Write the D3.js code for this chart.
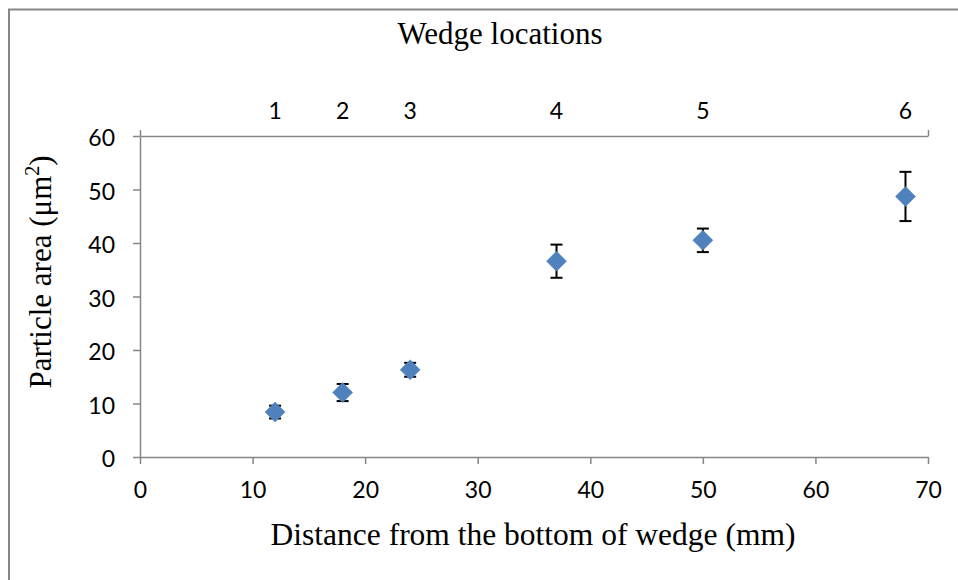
<!DOCTYPE html>
<html lang="en">
<head>
<meta charset="UTF-8">
<title>Particle area vs distance</title>
<script src="https://d3js.org/d3.v7.min.js"></script>
<style>
  body { margin: 0; background: #fff; }
  svg { display: block; }
  .tick text, .wedge { font-family: Lato, "Open Sans", sans-serif; font-size: 23px; fill: #000; }
  .domain, .tick line { stroke: #868686; stroke-width: 1.5px; }
  .title { font-family: "Liberation Serif", "Times New Roman", serif; font-size: 31px; fill: #000; }
</style>
</head>
<body>
<svg width="958" height="580"></svg>
<script>
// data
const distance = [12, 18, 24, 37, 50, 68];
const wedgeLabels = ["1", "2", "3", "4", "5", "6"];
const area = [8.4, 12.05, 16.3, 36.6, 40.5, 48.7];
const areaErr = [1.2, 1.6, 1.3, 3.1, 2.2, 4.6];
const xTicks = [0, 10, 20, 30, 40, 50, 60, 70];
const yTicks = [0, 10, 20, 30, 40, 50, 60];

const svg = d3.select("svg");
const plot = { left: 140, right: 928, top: 136, bottom: 457 };

const x = d3.scaleLinear().domain([0, 70]).range([plot.left, plot.right]);
const y = d3.scaleLinear().domain([0, 60]).range([plot.bottom, plot.top]);

// outer frame (top and left edges)
svg.append("path")
    .attr("d", "M9,580V9.5H958")
    .attr("fill", "none")
    .attr("stroke", "#868686")
    .attr("stroke-width", 2);

// bottom axis
svg.append("g")
    .attr("transform", `translate(0,${plot.bottom})`)
    .call(d3.axisBottom(x).tickValues(xTicks).tickSize(7).tickSizeOuter(0).tickPadding(18))
    .call(g => g.selectAll(".tick text").attr("dy", "0.71em"));

// left axis
svg.append("g")
    .attr("transform", `translate(${plot.left},0)`)
    .call(d3.axisLeft(y).tickValues(yTicks).tickSize(7).tickSizeOuter(0).tickPadding(18))
    .call(g => g.selectAll(".tick text").attr("dy", "0.42em"));

// top axis (wedge locations)
svg.append("g")
    .attr("transform", `translate(0,${plot.top})`)
    .call(d3.axisTop(x).tickValues([0, 70]).tickSize(6).tickSizeOuter(0).tickFormat(""));

svg.append("g").selectAll("text")
    .data(distance)
    .join("text")
    .attr("class", "wedge")
    .attr("x", d => x(d))
    .attr("y", 119)
    .attr("text-anchor", "middle")
    .text((d, i) => wedgeLabels[i]);

// error bars
const eb = svg.append("g").attr("stroke", "#000").attr("stroke-width", 2);
distance.forEach((d, i) => {
    const cx = x(d), y1 = y(area[i] + areaErr[i]), y2 = y(area[i] - areaErr[i]);
    eb.append("line").attr("x1", cx).attr("x2", cx).attr("y1", y1).attr("y2", y2);
    eb.append("line").attr("x1", cx - 6).attr("x2", cx + 6).attr("y1", y1).attr("y2", y1);
    eb.append("line").attr("x1", cx - 6).attr("x2", cx + 6).attr("y1", y2).attr("y2", y2);
});

// diamond markers
svg.append("g").selectAll("path")
    .data(distance)
    .join("path")
    .attr("d", d3.symbol(d3.symbolSquare, 200))
    .attr("transform", (d, i) => `translate(${x(d)},${y(area[i])}) rotate(45)`)
    .attr("fill", "#4F81BD")
    .attr("stroke", "#4A7EBB")
    .attr("stroke-width", 0.5);

// titles
svg.append("text").attr("class", "title")
    .attr("x", 500).attr("y", 44)
    .attr("text-anchor", "middle")
    .text("Wedge locations");

svg.append("text").attr("class", "title")
    .attr("x", 533).attr("y", 545)
    .attr("text-anchor", "middle")
    .style("font-size", "31.5px")
    .text("Distance from the bottom of wedge (mm)");

const yt = svg.append("text").attr("class", "title")
    .attr("transform", "translate(51,272) rotate(-90)")
    .attr("text-anchor", "middle");
yt.append("tspan").text("Particle area (μm");
yt.append("tspan").attr("dy", -12).style("font-size", "20px").text("2");
yt.append("tspan").attr("dy", 12).text(")");
</script>
</body>
</html>
